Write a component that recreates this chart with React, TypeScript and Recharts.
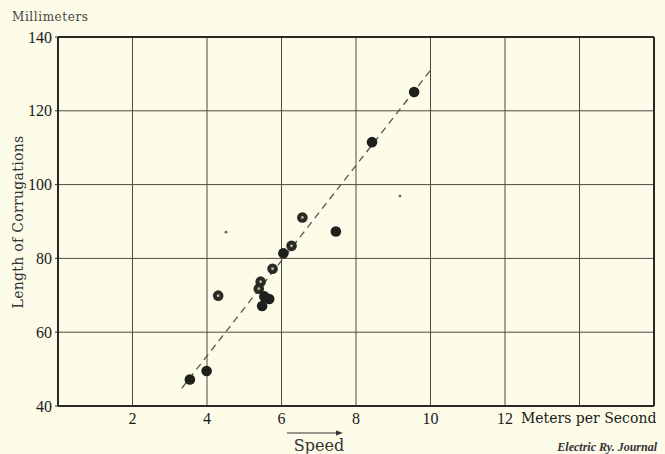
import React from "react";
import {
  ScatterChart,
  Scatter,
  XAxis,
  YAxis,
  CartesianGrid,
  ReferenceLine,
} from "recharts";

// Speed (m/s) and corrugation length (mm)
const filledSpeed = [3.54, 3.99, 5.54, 5.67, 5.48, 6.05, 7.46, 8.43, 9.56];
const filledLength = [47.2, 49.5, 69.7, 69.0, 67.1, 81.4, 87.3, 111.5, 125.1];
const openSpeed = [4.3, 5.39, 5.44, 5.76, 6.27, 6.56];
const openLength = [69.9, 71.8, 73.7, 77.2, 83.4, 91.1];
const speckSpeed = [9.18, 4.51];
const speckLength = [96.9, 87.1];
const trendSpeed = [3.32, 10.0];
const trendLength = [44.8, 131.0];
const xTicks = [2, 4, 6, 8, 10, 12, 14];
const yTicks = [40, 60, 80, 100, 120, 140];

const zip = (xs: number[], ys: number[]) => xs.map((x, i) => ({ x, y: ys[i] }));
const filledData = zip(filledSpeed, filledLength);
const openData = zip(openSpeed, openLength);
const speckData = zip(speckSpeed, speckLength);
const trendSegment = zip(trendSpeed, trendLength);

const INK = "#2a2a24";
const BG = "#fcfce8";

const FilledDot = (p: any) => (
  <circle cx={p.cx} cy={p.cy} r={5.3} fill="#1f1f1b" />
);
const OpenDot = (p: any) => (
  <g>
    <circle cx={p.cx} cy={p.cy} r={5.3} fill="#2b2b26" />
    <circle cx={p.cx} cy={p.cy} r={1.4} fill="#b8b8a8" />
  </g>
);
const Speck = (p: any) => <circle cx={p.cx} cy={p.cy} r={1.4} fill="#666" />;

const XTick = (p: any) => {
  const v = p.payload.value;
  if (v === 14) return <g />;
  return (
    <g>
      <text
        x={p.x}
        y={p.y}
        dy="0.71em"
        textAnchor="middle"
        fontFamily="Liberation Serif"
        fontSize={16}
        fill="#1a1a1a"
      >
        {v}
      </text>
      {v === 12 && (
        <text
          x={p.x + 16}
          y={p.y}
          dy="0.71em"
          textAnchor="start"
          fontFamily="DejaVu Serif"
          fontSize={14}
          fill="#1a1a1a"
        >
          Meters per Second
        </text>
      )}
    </g>
  );
};

export default function App() {
  return (
    <div
      style={{
        position: "absolute",
        left: 0,
        top: 0,
        width: 665,
        height: 454,
        background: BG,
      }}
    >
      <ScatterChart
        width={665}
        height={454}
        margin={{ top: 37, right: 11, bottom: 18, left: 0 }}
      >
        <CartesianGrid stroke="#4a4a40" strokeWidth={1} />
        <XAxis
          type="number"
          dataKey="x"
          domain={[0, 16]}
          ticks={xTicks}
          interval={0}
          height={30}
          tickLine={false}
          tickSize={0}
          tickMargin={7}
          axisLine={{ stroke: INK, strokeWidth: 2 }}
          tick={<XTick />}
        />
        <YAxis
          type="number"
          dataKey="y"
          domain={[40, 140]}
          ticks={yTicks}
          interval={0}
          width={58}
          tickSize={3}
          tickMargin={3}
          tickLine={{ stroke: INK }}
          axisLine={{ stroke: INK, strokeWidth: 2 }}
          tick={{
            fontFamily: "Liberation Serif",
            fontSize: 16,
            fill: "#1a1a1a",
          }}
        />
        <ReferenceLine y={140} stroke={INK} strokeWidth={2} />
        <ReferenceLine x={16} stroke={INK} strokeWidth={2} />
        <ReferenceLine
          segment={trendSegment}
          stroke="#555"
          strokeWidth={1.3}
          strokeDasharray="7 5"
        />
        <Scatter data={speckData} shape={<Speck />} isAnimationActive={false} />
        <Scatter data={openData} shape={<OpenDot />} isAnimationActive={false} />
        <Scatter data={filledData} shape={<FilledDot />} isAnimationActive={false} />
      </ScatterChart>
      <svg
        width={665}
        height={454}
        style={{ position: "absolute", left: 0, top: 0, pointerEvents: "none" }}
      >
        <text
          x={12}
          y={21}
          fontFamily="DejaVu Serif"
          fontSize={12}
          letterSpacing={0.6}
          fill="#444"
        >
          Millimeters
        </text>
        <text
          x={0}
          y={0}
          transform="translate(23,222) rotate(-90)"
          textAnchor="middle"
          fontFamily="DejaVu Serif"
          fontSize={14}
          letterSpacing={0.3}
          fill="#333"
        >
          Length of Corrugations
        </text>
        <line x1={287} y1={433} x2={339} y2={433} stroke="#333" strokeWidth={1.2} />
        <polygon points="343,433 336,430.5 336,435.5" fill="#333" />
        <text
          x={319}
          y={451}
          textAnchor="middle"
          fontFamily="DejaVu Serif"
          fontSize={16}
          fill="#333"
        >
          Speed
        </text>
        <text
          x={657}
          y={451}
          textAnchor="end"
          fontFamily="Liberation Serif"
          fontStyle="italic"
          fontWeight="bold"
          fontSize={12}
          fill="#333"
        >
          Electric Ry. Journal
        </text>
      </svg>
    </div>
  );
}
